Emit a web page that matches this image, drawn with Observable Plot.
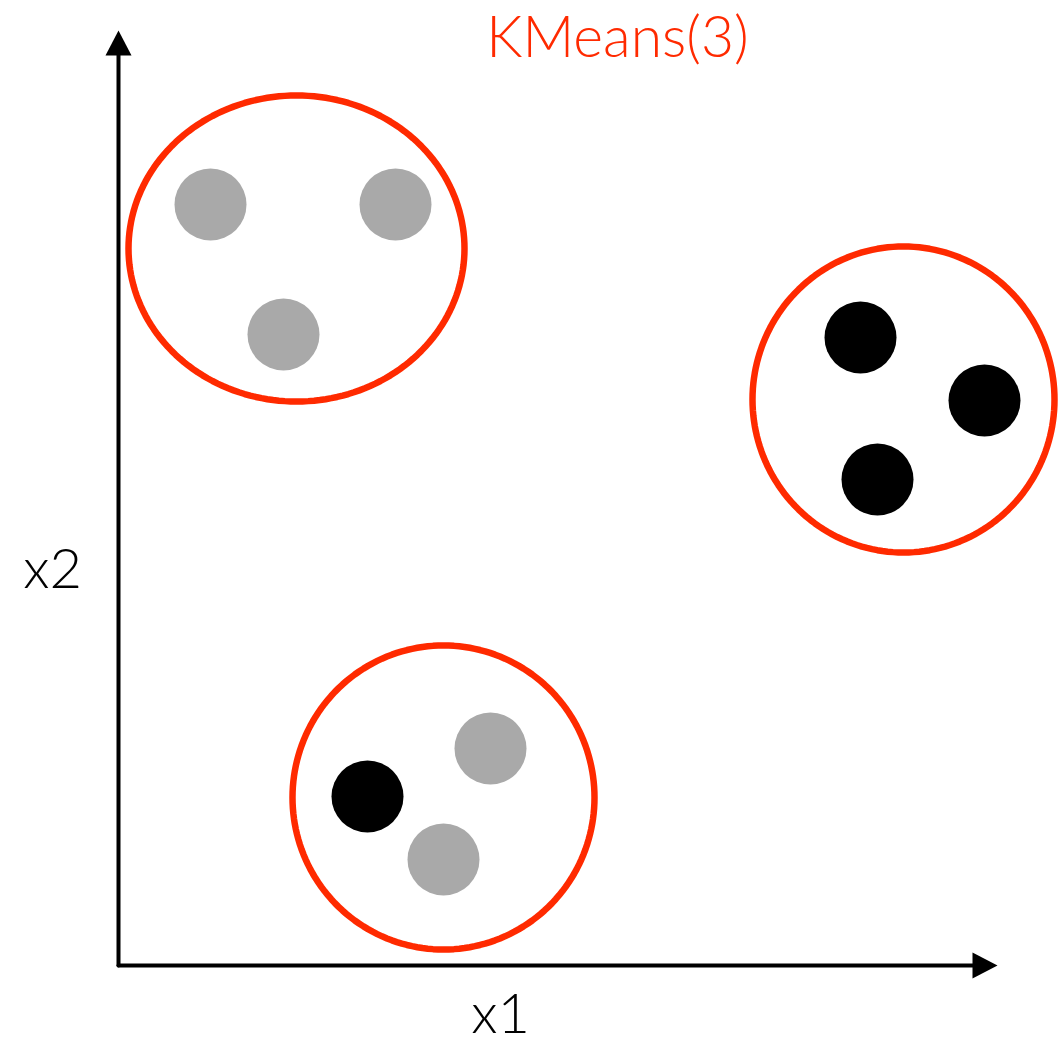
<!DOCTYPE html>
<html>
<head>
<meta charset="utf-8">
<script src="https://cdn.jsdelivr.net/npm/d3@7"></script>
<script src="https://cdn.jsdelivr.net/npm/@observablehq/plot@0.6"></script>
<style>
  html, body { margin: 0; padding: 0; background: #fff; }
  #chart svg { display: block; }
</style>
</head>
<body>
<div id="chart"></div>
<script>
// Points (x1, x2) in data units, axis origin at (0, 0)
const grayX = [0.92, 2.77, 1.65, 3.72, 3.25];
const grayY = [7.61, 7.61, 6.31, 2.17, 1.06];
const blackX = [7.42, 8.66, 7.59, 2.49];
const blackY = [6.28, 5.65, 4.86, 1.69];

// KMeans(3) cluster outlines: centre and half-widths
const clusterCx = [1.78, 7.85, 3.25];
const clusterCy = [7.17, 5.66, 1.68];
const clusterRx = [1.68, 1.51, 1.51];
const clusterRy = [1.53, 1.53, 1.52];

// Axis extents
const xAxisEnd = 8.79;
const yAxisEnd = 9.35;
const arrowLen = 0.25;
const arrowHalf = 0.13;

const title = "KMeans(3)";
const xLabel = "x1";
const yLabel = "x2";

const gray = grayX.map((x, i) => ({x, y: grayY[i]}));
const black = blackX.map((x, i) => ({x, y: blackY[i]}));

const ellipsePts = [];
clusterCx.forEach((cx, k) => {
  for (let i = 0; i < 180; i++) {
    const t = (i / 180) * 2 * Math.PI;
    ellipsePts.push({k, x: cx + clusterRx[k] * Math.cos(t), y: clusterCy[k] + clusterRy[k] * Math.sin(t)});
  }
});

const xHead = [
  {x: xAxisEnd, y: 0},
  {x: xAxisEnd - arrowLen, y: arrowHalf},
  {x: xAxisEnd - arrowLen, y: -arrowHalf}
];
const yHead = [
  {x: 0, y: yAxisEnd},
  {x: -arrowHalf, y: yAxisEnd - arrowLen},
  {x: arrowHalf, y: yAxisEnd - arrowLen}
];

const font = "Lato, 'Open Sans', sans-serif";

const chart = Plot.plot({
  width: 1060,
  height: 1047,
  margin: 0,
  x: {domain: [-1.18, 9.42], axis: null},
  y: {domain: [-0.82, 9.65], axis: null},
  style: {background: "#fff", fontFamily: font},
  marks: [
    Plot.line([{x: 0, y: 0}, {x: xAxisEnd - arrowLen + 0.02, y: 0}], {x: "x", y: "y", stroke: "black", strokeWidth: 4}),
    Plot.line([{x: 0, y: 0}, {x: 0, y: yAxisEnd - arrowLen + 0.02}], {x: "x", y: "y", stroke: "black", strokeWidth: 4}),
    Plot.line(xHead, {x: "x", y: "y", fill: "black", stroke: "none", curve: "linear-closed"}),
    Plot.line(yHead, {x: "x", y: "y", fill: "black", stroke: "none", curve: "linear-closed"}),
    Plot.dot(gray, {x: "x", y: "y", r: 36, fill: "#a9a9a9", stroke: "none"}),
    Plot.dot(black, {x: "x", y: "y", r: 36, fill: "black", stroke: "none"}),
    Plot.line(ellipsePts, {x: "x", y: "y", z: "k", stroke: "#ff2a00", strokeWidth: 6.5, curve: "linear-closed"}),
    Plot.text([title], {x: 4.99, y: 9.27, text: d => d, fontSize: 57, fill: "#ff2a00", fontWeight: 300}),
    Plot.text([yLabel], {x: -0.66, y: 3.95, text: d => d, fontSize: 56, fill: "black", fontWeight: 300}),
    Plot.text([xLabel], {x: 3.82, y: -0.5, text: d => d, fontSize: 56, fill: "black", fontWeight: 300})
  ]
});
document.getElementById("chart").appendChild(chart);
</script>
</body>
</html>
